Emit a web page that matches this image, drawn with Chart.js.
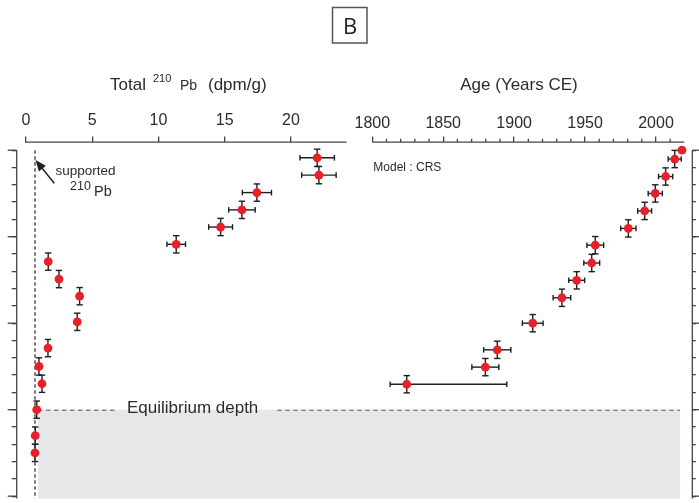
<!DOCTYPE html>
<html>
<head>
<meta charset="utf-8">
<script src="https://cdn.jsdelivr.net/npm/chart.js@4/dist/chart.umd.min.js"></script>
<style>
html,body{margin:0;padding:0;background:#fff;}
#wrap{position:relative;width:699px;height:503px;overflow:hidden;}
canvas{display:block;}
</style>
</head>
<body>
<div id="wrap"><canvas id="c" width="699" height="503" style="width:699px;height:503px"></canvas></div>
<script>
// ---- data ----
const depthPb = [0.44, 1.44, 2.45, 3.45, 4.44, 5.44, 6.44, 7.45, 8.44, 9.92, 11.44, 12.5, 13.5, 15, 16.5, 17.5];
const pbTotal = [21.98, 22.11, 17.43, 16.30, 14.69, 11.34, 1.68, 2.49, 4.05, 3.87, 1.66, 0.98, 1.21, 0.81, 0.70, 0.68];
const pbErr   = [1.3, 1.3, 1.1, 1.0, 0.9, 0.7, 0.1, 0.1, 0.2, 0.2, 0.1, 0.08, 0.08, 0.08, 0.08, 0.08];
const pbDepthErr = [0.5, 0.5, 0.5, 0.5, 0.5, 0.5, 0.5, 0.5, 0.5, 0.5, 0.5, 0.5, 0.5, 0.5, 0.5, 0.5];

const depthAge = [0, 0.51, 1.52, 2.5, 3.51, 4.52, 5.49, 6.52, 7.52, 8.53, 10, 11.54, 12.54, 13.53];
const ageCE    = [2018.3, 2013.2, 2006.8, 1999.5, 1992.0, 1980.5, 1957.2, 1954.7, 1944.1, 1933.7, 1913.1, 1888.1, 1879.7, 1824.3];
const ageErrLow  = [0, 4.6, 5.0, 5.0, 4.9, 5.4, 5.9, 5.6, 5.6, 6.2, 7.3, 9.6, 9.5, 11.7];
const ageErrHigh = [0, 4.6, 5.0, 5.0, 4.9, 5.4, 5.9, 5.6, 5.6, 6.2, 7.3, 9.6, 9.5, 70.5];
const ageDepthErr = [0, 0.5, 0.5, 0.5, 0.5, 0.5, 0.5, 0.5, 0.5, 0.5, 0.5, 0.5, 0.5, 0.5];

const supportedPb = 0.68;
const equilibriumDepth = 15;

const pbTicks = [0, 5, 10, 15, 20];
const ageTicks = [1800, 1850, 1900, 1950, 2000];
const ageMinorTicks = [1810, 1820, 1830, 1840, 1860, 1870, 1880, 1890, 1910, 1920, 1930, 1940, 1960, 1970, 1980, 1990, 2010];
const depthTicks = [0,1,2,3,4,5,6,7,8,9,10,11,12,13,14,15,16,17,18,19,20];
const depthMajorTicks = [0, 5, 10, 15, 20];

// ---- styling ----
const FONT = '"Liberation Sans", Arial, Helvetica, sans-serif';
const AXIS = '#444';
const TXT = '#2b2b2b';
const RED = '#e8202a';
const ERR = '#1e1e1e';

function line(ctx, x1, y1, x2, y2) { ctx.beginPath(); ctx.moveTo(x1, y1); ctx.lineTo(x2, y2); ctx.stroke(); }

function errBars(ctx, xs, ys, xLo, xHi, yErr, xScale, yScale) {
  ctx.strokeStyle = ERR; ctx.lineWidth = 1.4;
  for (let i = 0; i < xs.length; i++) {
    const px = xScale.getPixelForValue(xs[i]);
    const py = yScale.getPixelForValue(ys[i]);
    if (xLo[i] > 0 || xHi[i] > 0) {
      const a = xScale.getPixelForValue(xs[i] - xLo[i]);
      const b = xScale.getPixelForValue(xs[i] + xHi[i]);
      line(ctx, a, py, b, py);
      line(ctx, a, py - 2.8, a, py + 2.8);
      line(ctx, b, py - 2.8, b, py + 2.8);
    }
    if (yErr[i] > 0) {
      const t = yScale.getPixelForValue(ys[i] - yErr[i]);
      const u = yScale.getPixelForValue(ys[i] + yErr[i]);
      line(ctx, px, t, px, u);
      line(ctx, px - 3.2, t, px + 3.2, t);
      line(ctx, px - 3.2, u, px + 3.2, u);
    }
  }
}

const deco = {
  id: 'deco',
  beforeDatasetsDraw(chart) {
    const {ctx, chartArea: ca, scales} = chart;
    const xPb = scales.xPb, xAge = scales.xAge, y = scales.y;
    ctx.save();
    // equilibrium region
    const gx0 = xPb.getPixelForValue(supportedPb) + 3;
    const gx1 = xAge.getPixelForValue(2017);
    const gy = y.getPixelForValue(equilibriumDepth);
    ctx.fillStyle = '#e6e7e9';
    ctx.fillRect(gx0, gy, gx1 - gx0, ca.bottom - gy);

    // equilibrium label + dashed line
    ctx.font = '17px ' + FONT;
    ctx.fillStyle = TXT;
    ctx.textAlign = 'center';
    ctx.textBaseline = 'alphabetic';
    const lx = xPb.getPixelForValue(12.58);
    const label = 'Equilibrium depth';
    const w = ctx.measureText(label).width;
    ctx.fillText(label, lx, gy + 3.5);
    ctx.strokeStyle = '#555'; ctx.lineWidth = 1;
    ctx.setLineDash([4.5, 3.5]);
    line(ctx, gx0, gy + 0.5, lx - w / 2 - 11, gy + 0.5);
    line(ctx, lx + w / 2 + 19, gy + 0.5, gx1, gy + 0.5);

    // supported 210Pb dashed vertical
    const sx = xPb.getPixelForValue(supportedPb);
    ctx.lineWidth = 1.5; ctx.strokeStyle = '#555';
    ctx.setLineDash([3.5, 2.5]);
    line(ctx, sx, y.getPixelForValue(0), sx, ca.bottom);
    ctx.setLineDash([]);

    // error bars
    errBars(ctx, pbTotal, depthPb, pbErr, pbErr, pbDepthErr, xPb, y);
    errBars(ctx, ageCE, depthAge, ageErrLow, ageErrHigh, ageDepthErr, xAge, y);
    ctx.restore();
  },
  afterDraw(chart) {
    const {ctx, chartArea: ca, scales} = chart;
    const xPb = scales.xPb, xAge = scales.xAge, y = scales.y;
    ctx.save();
    ctx.strokeStyle = AXIS; ctx.lineWidth = 1.3;
    // axis lines
    line(ctx, xPb.getPixelForValue(0) - 1, ca.top, xPb.getPixelForValue(24.2), ca.top);
    line(ctx, xAge.getPixelForValue(1800), ca.top, xAge.getPixelForValue(2020), ca.top);
    line(ctx, ca.left, y.getPixelForValue(0), ca.left, ca.bottom);
    line(ctx, ca.right, y.getPixelForValue(0), ca.right, ca.bottom);
    // minor age ticks
    ageMinorTicks.forEach(v => { const p = xAge.getPixelForValue(v); line(ctx, p, ca.top, p, ca.top - 3.3); });
    // longer major depth ticks
    depthMajorTicks.forEach(v => {
      const p = y.getPixelForValue(v);
      line(ctx, ca.left - 9, p, ca.left, p);
      line(ctx, ca.right, p, ca.right + 8, p);
    });

    // axis titles
    ctx.fillStyle = TXT;
    ctx.textAlign = 'left';
    ctx.textBaseline = 'alphabetic';
    ctx.font = '17px ' + FONT;
    ctx.fillText('Total', 110, 89.5);
    ctx.font = '11px ' + FONT;
    ctx.fillText('210', 153, 82);
    ctx.font = '14px ' + FONT;
    ctx.fillText('Pb', 180, 89.5);
    ctx.font = '17px ' + FONT;
    ctx.fillText('(dpm/g)', 208, 89.5);
    ctx.textAlign = 'center';
    ctx.fillText('Age (Years CE)', 519, 90);

    // panel letter
    ctx.strokeStyle = '#555'; ctx.lineWidth = 1.5;
    ctx.strokeRect(332.5, 7.5, 34.5, 35.5);
    ctx.font = '22px "Open Sans", "Noto Sans", sans-serif';
    ctx.fillStyle = '#222';
    ctx.fillText('B', 350, 33.5);

    // model label
    ctx.textAlign = 'left';
    ctx.font = '12px ' + FONT;
    ctx.fillStyle = TXT;
    ctx.fillText('Model : CRS', xAge.getPixelForValue(1800) + 1, 170.5);

    // supported 210Pb annotation
    ctx.font = '13.5px ' + FONT;
    ctx.fillText('supported', 55.5, 175);
    ctx.font = '12.5px ' + FONT;
    ctx.fillText('210', 70, 190);
    ctx.font = '14.5px ' + FONT;
    ctx.fillText('Pb', 94, 196);

    // arrow
    const tx = xPb.getPixelForValue(supportedPb) + 0.5, ty = 160;
    const fx = 54.3, fy = 183.3;
    ctx.strokeStyle = '#222'; ctx.lineWidth = 1.5;
    const ang = Math.atan2(ty - fy, tx - fx);
    line(ctx, fx, fy, tx - 6 * Math.cos(ang), ty - 6 * Math.sin(ang));
    ctx.fillStyle = '#222';
    ctx.beginPath();
    ctx.moveTo(tx, ty);
    ctx.lineTo(tx - 11 * Math.cos(ang) + 4.5 * Math.sin(ang), ty - 11 * Math.sin(ang) - 4.5 * Math.cos(ang));
    ctx.lineTo(tx - 11 * Math.cos(ang) - 4.5 * Math.sin(ang), ty - 11 * Math.sin(ang) + 4.5 * Math.cos(ang));
    ctx.closePath();
    ctx.fill();
    ctx.restore();
  }
};

const tickFont = {family: FONT, size: 16};
const zeroPad = s => { s.paddingLeft = 0; s.paddingRight = 0; };
const plainLabel = v => String(v);

new Chart(document.getElementById('c'), {
  type: 'scatter',
  data: {
    datasets: [
      {
        label: 'Total 210Pb (dpm/g)',
        xAxisID: 'xPb', yAxisID: 'y',
        data: pbTotal.map((v, i) => ({x: v, y: depthPb[i]})),
        pointRadius: 4.4, pointHoverRadius: 4.4,
        pointBackgroundColor: RED, pointBorderWidth: 0, borderColor: RED
      },
      {
        label: 'Age (Years CE)',
        xAxisID: 'xAge', yAxisID: 'y',
        data: ageCE.map((v, i) => ({x: v, y: depthAge[i]})),
        pointRadius: 4.4, pointHoverRadius: 4.4,
        pointBackgroundColor: RED, pointBorderWidth: 0, borderColor: RED
      }
    ]
  },
  options: {
    responsive: false,
    animation: false,
    events: [],
    layout: {padding: {left: 11.7, right: 3.2, top: 104.4, bottom: 0}},
    plugins: {legend: {display: false}, tooltip: {enabled: false}},
    scales: {
      xPb: {
        type: 'linear', position: 'top', stack: 'top', stackWeight: 355.6, weight: 2,
        min: -0.70, max: 26.14,
        afterBuildTicks: s => { s.ticks = pbTicks.map(v => ({value: v})); },
        afterFit: zeroPad,
        border: {display: false},
        grid: {drawOnChartArea: false, drawTicks: true, tickLength: 5.5, color: AXIS, lineWidth: 1.3},
        ticks: {padding: 6.5, font: tickFont, color: TXT, autoSkip: false, maxRotation: 0, callback: plainLabel}
      },
      xAge: {
        type: 'linear', position: 'top', stack: 'top', stackWeight: 320, weight: 1,
        min: 1800, max: 2025.6,
        afterBuildTicks: s => { s.ticks = ageTicks.map(v => ({value: v})); },
        afterFit: zeroPad,
        border: {display: false},
        grid: {drawOnChartArea: false, drawTicks: true, tickLength: 5.7, color: AXIS, lineWidth: 1.3},
        ticks: {padding: 3.5, font: tickFont, color: TXT, autoSkip: false, maxRotation: 0, callback: plainLabel}
      },
      y: {
        type: 'linear', position: 'left', reverse: true,
        min: -0.469, max: 20.14,
        afterBuildTicks: s => { s.ticks = depthTicks.map(v => ({value: v})); },
        border: {display: false},
        grid: {drawOnChartArea: false, drawTicks: true, tickLength: 5, color: AXIS, lineWidth: 1.3},
        ticks: {display: false}
      },
      y2: {
        type: 'linear', position: 'right', reverse: true,
        min: -0.469, max: 20.14,
        afterBuildTicks: s => { s.ticks = depthTicks.map(v => ({value: v})); },
        border: {display: false},
        grid: {drawOnChartArea: false, drawTicks: true, tickLength: 3.5, color: AXIS, lineWidth: 1.3},
        ticks: {display: false}
      }
    }
  },
  plugins: [deco]
});
</script>
</body>
</html>
